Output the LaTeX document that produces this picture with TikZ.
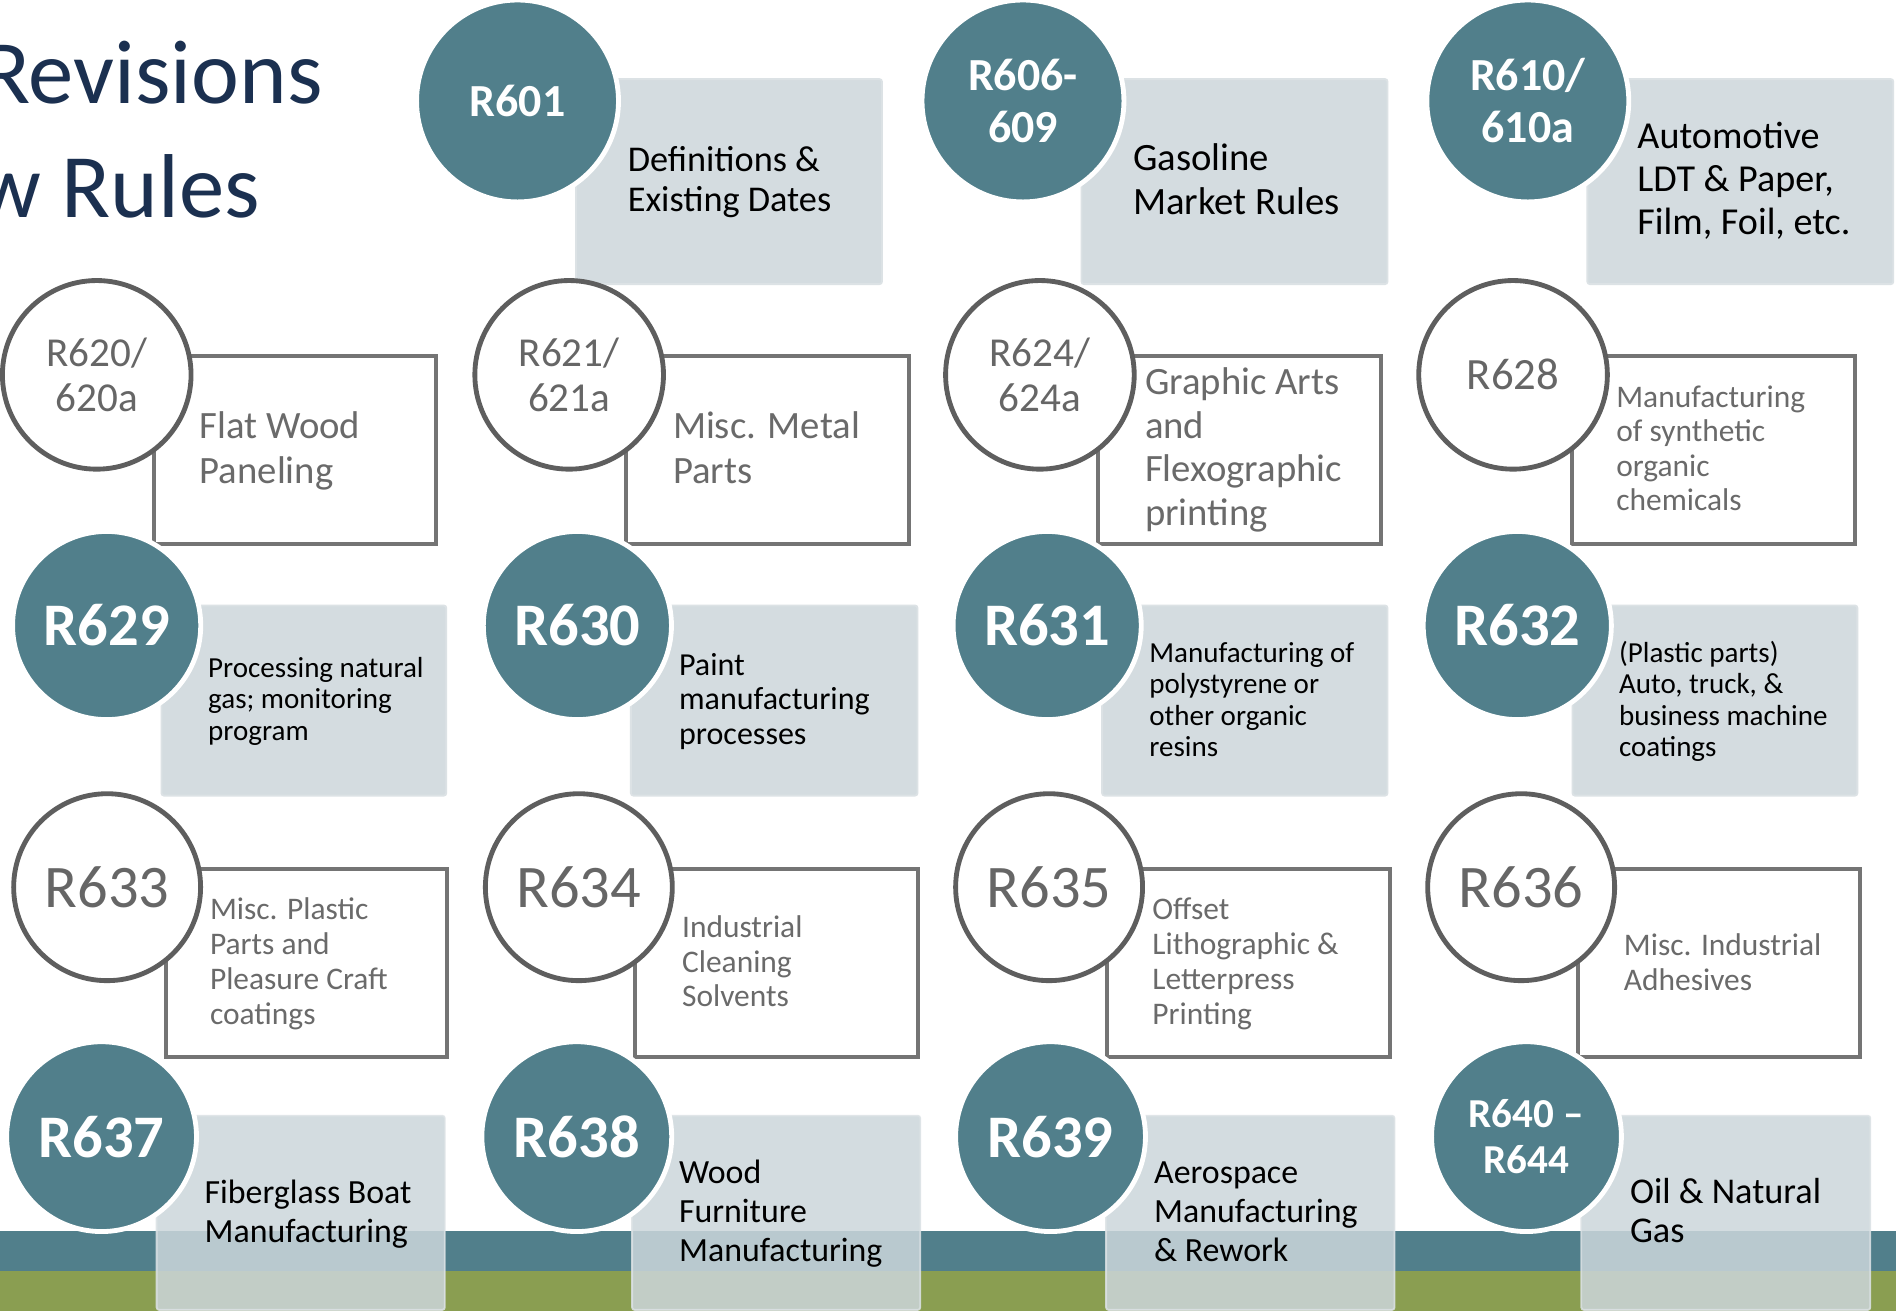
\documentclass[tikz,border=0pt]{standalone}
\usepackage{fontspec}
\setmainfont{Carlito}
\newcommand{\mlines}[1]{\begin{tabular}[t]{@{}l@{}}#1\end{tabular}}
\newcommand{\fsz}[2]{\fontsize{#1pt}{#2pt}\selectfont}
\definecolor{tealc}{HTML}{517F8B}
\definecolor{greenc}{HTML}{8A9E51}
\definecolor{boxgrey}{HTML}{D4DCE0}
\definecolor{boxgreyt}{HTML}{CCD6DB}
\definecolor{boxedge}{HTML}{DCE2E5}
\definecolor{circgrey}{HTML}{5E5E5E}
\definecolor{boxline}{HTML}{747474}
\definecolor{labgrey}{HTML}{666666}
\definecolor{txtgrey}{HTML}{6A6A6A}
\definecolor{navyc}{HTML}{1B3050}
\begin{document}
\begin{tikzpicture}[x=1pt,y=-1pt,
  fcirc/.style={circle, fill=tealc, draw=white, line width=4pt, text=white, inner sep=0pt, align=center},
  ocirc/.style={circle, fill=white, draw=circgrey, line width=4pt, text=labgrey, inner sep=0pt, align=center},
  fcA/.style={fcirc, minimum size=167pt, font=\fsz{38}{43}\bfseries},
  ocB/.style={ocirc, minimum size=156pt, font=\fsz{34}{38}},
  fcC/.style={fcirc, minimum size=155.6pt, font=\fsz{50}{60}\bfseries},
  ocD/.style={ocirc, minimum size=154.6pt, font=\fsz{50}{60}},
  fcE/.style={fcirc, minimum size=157pt, font=\fsz{50}{60}\bfseries},
  fbx/.style={rectangle, anchor=north west, fill=boxgrey, draw=boxedge, line width=1.5pt, rounded corners=2pt, inner sep=0pt},
  tbx/.style={fbx, fill=boxgreyt, fill opacity=0.85, draw opacity=0.85},
  obx/.style={rectangle, anchor=north west, fill=white, draw=boxline, line width=3.3pt, inner sep=0pt},
  btxt/.style={anchor=base west, inner sep=0pt, text=black},
  gtxt/.style={anchor=base west, inner sep=0pt, text=txtgrey},
  band/.style={rectangle, anchor=north west, inner sep=0pt, draw=none, minimum width=1568pt, minimum height=33pt, outer sep=0pt}]
\useasboundingbox (0,0) rectangle (1568,1084);
\clip (0,0) rectangle (1568,1084);
\fill[white] (0,0) rectangle (1568,1084);
% bottom bands
\node[band, fill=tealc] (bandT) at (0,1018) {};
\node[band, fill=greenc, minimum height=34pt] (bandG) at (0,1051) {};
% title
\node[anchor=base east, inner sep=0pt, text=navyc, font=\fsz{75}{90}] (title1) at (267,85.7) {Revisions};
\node[anchor=base east, inner sep=0pt, text=navyc, font=\fsz{75}{90}] (title2) at (215,180) {New Rules};
% ---------- boxes ----------
\node[fbx, minimum width=253pt, minimum height=169.5pt] (b601) at (475.6,64.7) {};
\node[fbx, minimum width=253pt, minimum height=169.5pt] (b606) at (893.7,64.7) {};
\node[fbx, minimum width=253pt, minimum height=169.5pt] (b610) at (1312,64.7) {};
\node[obx, minimum width=233pt, minimum height=155.5pt] (b620) at (125.6,293) {};
\node[obx, minimum width=234pt, minimum height=155.5pt] (b621) at (516,293) {};
\node[obx, minimum width=234pt, minimum height=155.5pt] (b624) at (906.7,293) {};
\node[obx, minimum width=234pt, minimum height=155.5pt] (b628) at (1298.6,293) {};
\node[fbx, minimum width=235.5pt, minimum height=157.2pt] (b629) at (132.8,500) {};
\node[fbx, minimum width=237pt, minimum height=157.2pt] (b630) at (521,500) {};
\node[fbx, minimum width=236pt, minimum height=157.2pt] (b631) at (910.7,500) {};
\node[fbx, minimum width=235.6pt, minimum height=157.2pt] (b632) at (1299.7,500) {};
\node[obx, minimum width=232.4pt, minimum height=155.4pt] (b633) at (135.3,717) {};
\node[obx, minimum width=233.9pt, minimum height=155.4pt] (b634) at (523.8,717) {};
\node[obx, minimum width=233.3pt, minimum height=155.4pt] (b635) at (914.2,717) {};
\node[obx, minimum width=233.2pt, minimum height=155.4pt] (b636) at (1303.5,717) {};
\node[tbx, minimum width=238.3pt, minimum height=160.5pt] (b637) at (128.8,922) {};
\node[tbx, minimum width=238.3pt, minimum height=160.5pt] (b638) at (522,922) {};
\node[tbx, minimum width=238.5pt, minimum height=160.5pt] (b639) at (914,922) {};
\node[tbx, minimum width=239pt, minimum height=160.5pt] (b640) at (1307,922) {};
% ---------- circles ----------
\node[fcA] (c601) at (428,83.5) {R601};
\node[fcA] (c606) at (846,83.5) {R606-\\609};
\node[fcA] (c610) at (1263.5,83.5) {R610/\\610a};
\node[ocB] (c620) at (80,310) {R620/\\620a};
\node[ocB] (c621) at (470.7,310) {R621/\\621a};
\node[ocB] (c624) at (860,310) {R624/\\624a};
\node[ocB, font=\fsz{37}{44}] (c628) at (1251.3,310) {R628};
\node[fcC] (c629) at (88.2,517.3) {R629};
\node[fcC] (c630) at (477.5,517.3) {R630};
\node[fcC] (c631) at (866,517.3) {R631};
\node[fcC] (c632) at (1254.8,517.3) {R632};
\node[ocD] (c633) at (88.6,733.7) {R633};
\node[ocD] (c634) at (478.7,733.7) {R634};
\node[ocD] (c635) at (867.6,733.7) {R635};
\node[ocD] (c636) at (1258,733.7) {R636};
\node[fcE] (c637) at (84,940) {R637};
\node[fcE] (c638) at (477,940) {R638};
\node[fcE] (c639) at (868.8,940) {R639};
\node[fcE, font=\fsz{34}{38.5}\bfseries] (c640) at (1262.4,940) {R640 –\\R644};
% ---------- texts ----------
\node[btxt, font=\fsz{30}{33}] (t601) at (519,142) {\mlines{Definitions \&\\Existing Dates}};
\node[btxt, font=\fsz{32}{36}] (t606) at (937,141) {\mlines{Gasoline\\Market Rules}};
\node[btxt, font=\fsz{31.5}{35.5}] (t610) at (1354,122.6) {\mlines{Automotive\\LDT \& Paper,\\Film, Foil, etc.}};
\node[gtxt, font=\fsz{32}{36.5}] (t620) at (165,363) {\mlines{Flat Wood\\Paneling}};
\node[gtxt, font=\fsz{32}{36.5}] (t621) at (556.4,363) {\mlines{Misc. Metal\\Parts}};
\node[gtxt, font=\fsz{32}{36.3}] (t624) at (946.8,326) {\mlines{Graphic Arts\\and\\Flexographic\\printing}};
\node[gtxt, font=\fsz{26}{28.5}] (t628) at (1336.5,337) {\mlines{Manufacturing\\of synthetic\\organic\\chemicals}};
\node[btxt, font=\fsz{24}{26.3}] (t629) at (172,560) {\mlines{Processing natural\\gas; monitoring\\program}};
\node[btxt, font=\fsz{26.5}{28.6}] (t630) at (561.4,558.5) {\mlines{Paint\\manufacturing\\processes}};
\node[btxt, font=\fsz{24}{26.1}] (t631) at (950.3,547.7) {\mlines{Manufacturing of\\polystyrene or\\other organic\\resins}};
\node[btxt, font=\fsz{24}{26.1}] (t632) at (1338.8,547.7) {\mlines{(Plastic parts)\\Auto, truck, \&\\business machine\\coatings}};
\node[gtxt, font=\fsz{26}{28.9}] (t633) at (173.5,760.5) {\mlines{Misc. Plastic\\Parts and\\Pleasure Craft\\coatings}};
\node[gtxt, font=\fsz{26}{28.5}] (t634) at (563.9,775.6) {\mlines{Industrial\\Cleaning\\Solvents}};
\node[gtxt, font=\fsz{26}{28.9}] (t635) at (952.8,760.5) {\mlines{Offset\\Lithographic \&\\Letterpress\\Printing}};
\node[gtxt, font=\fsz{26}{29}] (t636) at (1342.8,789.8) {\mlines{Misc. Industrial\\Adhesives}};
\node[btxt, font=\fsz{28}{32}] (t637) at (169,995.3) {\mlines{Fiberglass Boat\\Manufacturing}};
\node[btxt, font=\fsz{28}{32.3}] (t638) at (561.4,978.8) {\mlines{Wood\\Furniture\\Manufacturing}};
\node[btxt, font=\fsz{28}{32.3}] (t639) at (954.3,978.8) {\mlines{Aerospace\\Manufacturing\\\& Rework}};
\node[btxt, font=\fsz{30}{32.2}] (t640) at (1347.8,995.4) {\mlines{Oil \& Natural\\Gas}};
\end{tikzpicture}
\end{document}
